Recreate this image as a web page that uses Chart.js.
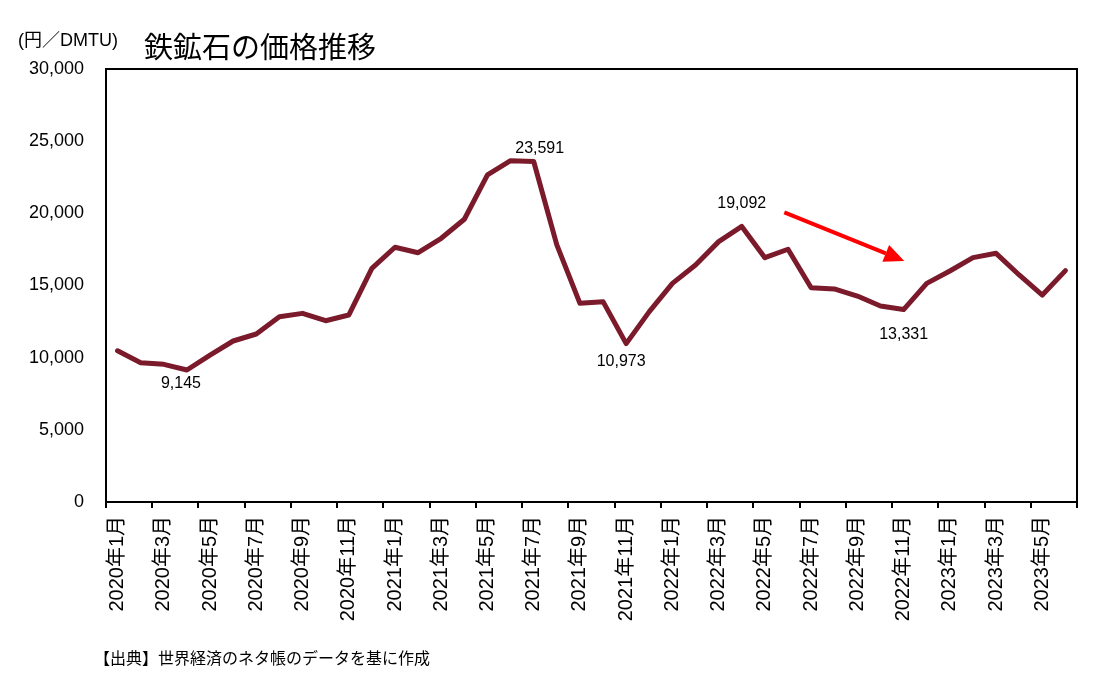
<!DOCTYPE html>
<html lang="ja">
<head>
<meta charset="utf-8">
<title>鉄鉱石の価格推移</title>
<script src="https://cdn.jsdelivr.net/npm/chart.js@4.4.0/dist/chart.umd.min.js"></script>
<style>
  body { margin: 0; background: #fff; }
  #wrap { position: relative; width: 1107px; height: 698px; font-family: "Liberation Sans", "Noto Sans CJK JP", sans-serif; color: #000; }
  #unit { position: absolute; left: 18px; top: 25px; font-size: 18px; }
  #title { position: absolute; left: 144px; top: 24px; font-size: 29px; }
  #source { position: absolute; left: 94px; top: 645px; font-size: 16px; }
  canvas { position: absolute; left: 0; top: 0; }
</style>
</head>
<body>
<div id="wrap">
  <canvas id="grafico" width="1107" height="698"></canvas>
  <div id="unit">(円／DMTU)</div>
  <div id="title">鉄鉱石の価格推移</div>
  <div id="source">【出典】世界経済のネタ帳のデータを基に作成</div>
</div>
<script>
// 2020年1月 〜 2023年6月
const anos = [2020, 2021, 2022, 2023];
const meses = [];
anos.forEach(a => {
  for (let m = 1; m <= 12; m++) {
    if (a === 2023 && m > 6) break;
    meses.push(a + '年' + m + '月');
  }
});

const precos = [
  10480, 9650, 9540, 9145, 10180, 11155, 11640, 12840, 13070, 12560, 12955, 16190,
  17650, 17270, 18270, 19590, 22660, 23650, 23591, 17810, 13765, 13880, 10973, 13190,
  15150, 16420, 18040, 19092, 16930, 17510, 14850, 14760, 14270, 13580, 13331, 15150,
  16005, 16930, 17230, 15730, 14340, 16030
];

const yTicks = [0, 5000, 10000, 15000, 20000, 25000, 30000];

// points that carry a value label
const pontosRotulo = [3, 18, 22, 27, 34];

// arrow annotation, in data coordinates [category index, value]
const setaInicio = [28.84, 20070];
const setaFim = [34.03, 16700];

const fonte = '"Liberation Sans", "Noto Sans CJK JP", sans-serif';
const fmt = v => v.toLocaleString('en-US');

const molduraPlugin = {
  id: 'moldura',
  afterDraw(chart) {
    const { ctx, chartArea: a } = chart;
    ctx.save();
    ctx.strokeStyle = '#000';
    ctx.lineWidth = 2;
    ctx.strokeRect(a.left, a.top, a.right - a.left, a.bottom - a.top);
    ctx.restore();
  }
};

const rotulosPlugin = {
  id: 'rotulos',
  afterDatasetsDraw(chart) {
    const { ctx } = chart;
    const meta = chart.getDatasetMeta(0);
    const desloc = { 3: [-6, 14], 18: [6, -13], 22: [-5, 18], 27: [0, -23], 34: [0, 25] };
    ctx.save();
    ctx.font = '16px ' + fonte;
    ctx.fillStyle = '#000';
    ctx.textAlign = 'center';
    ctx.textBaseline = 'middle';
    pontosRotulo.forEach(i => {
      const p = meta.data[i];
      const d = desloc[i] || [0, -15];
      ctx.fillText(fmt(precos[i]), p.x + d[0], p.y + d[1]);
    });
    ctx.restore();
  }
};

const setaPlugin = {
  id: 'seta',
  afterDatasetsDraw(chart) {
    const { ctx, scales } = chart;
    const x1 = scales.x.getPixelForValue(setaInicio[0]);
    const y1 = scales.y.getPixelForValue(setaInicio[1]);
    const x2 = scales.x.getPixelForValue(setaFim[0]);
    const y2 = scales.y.getPixelForValue(setaFim[1]);
    const ang = Math.atan2(y2 - y1, x2 - x1);
    const cab = 20, larg = 9;
    const bx = x2 - cab * Math.cos(ang), by = y2 - cab * Math.sin(ang);
    ctx.save();
    ctx.strokeStyle = '#FF0000';
    ctx.fillStyle = '#FF0000';
    ctx.lineWidth = 4;
    ctx.beginPath();
    ctx.moveTo(x1, y1);
    ctx.lineTo(bx, by);
    ctx.stroke();
    ctx.beginPath();
    ctx.moveTo(x2, y2);
    ctx.lineTo(bx + larg * Math.sin(ang), by - larg * Math.cos(ang));
    ctx.lineTo(bx - larg * Math.sin(ang), by + larg * Math.cos(ang));
    ctx.closePath();
    ctx.fill();
    ctx.restore();
  }
};

const ctx = document.getElementById('grafico').getContext('2d');
const grafico = new Chart(ctx, {
  type: 'line',
  data: {
    labels: meses,
    datasets: [{
      label: '鉄鉱石',
      data: precos,
      borderColor: '#7B1A2B',
      borderWidth: 5,
      borderJoinStyle: 'round',
      borderCapStyle: 'round',
      pointRadius: 0,
      tension: 0,
      fill: false
    }]
  },
  options: {
    responsive: false,
    animation: false,
    layout: { padding: { left: 0, top: 69, right: 30, bottom: 0 } },
    plugins: {
      legend: { display: false },
      title: { display: false },
      tooltip: { enabled: false }
    },
    scales: {
      x: {
        type: 'category',
        offset: true,
        afterFit(s) { s.height = 196; },
        grid: {
          offset: true,
          drawOnChartArea: false,
          drawTicks: true,
          tickLength: 6,
          lineWidth: 2,
          color: c => (c.index === undefined || c.index % 2 === 0) ? '#000' : 'rgba(0,0,0,0)'
        },
        border: { display: true, color: '#000', width: 2 },
        ticks: {
          autoSkip: false,
          minRotation: 90,
          maxRotation: 90,
          padding: 8,
          color: '#000',
          font: { family: fonte, size: 20 },
          callback: function (v, i) { return i % 2 === 0 ? this.getLabelForValue(v) : ''; }
        }
      },
      y: {
        min: 0,
        max: 30000,
        afterFit(s) { s.width = 106; },
        afterBuildTicks(s) { s.ticks = yTicks.map(v => ({ value: v })); },
        grid: { display: false },
        border: { display: true, color: '#000', width: 2 },
        ticks: {
          padding: 14,
          color: '#000',
          font: { family: fonte, size: 18 },
          callback: v => fmt(v)
        }
      }
    }
  },
  plugins: [molduraPlugin, rotulosPlugin, setaPlugin]
});
</script>
</body>
</html>
